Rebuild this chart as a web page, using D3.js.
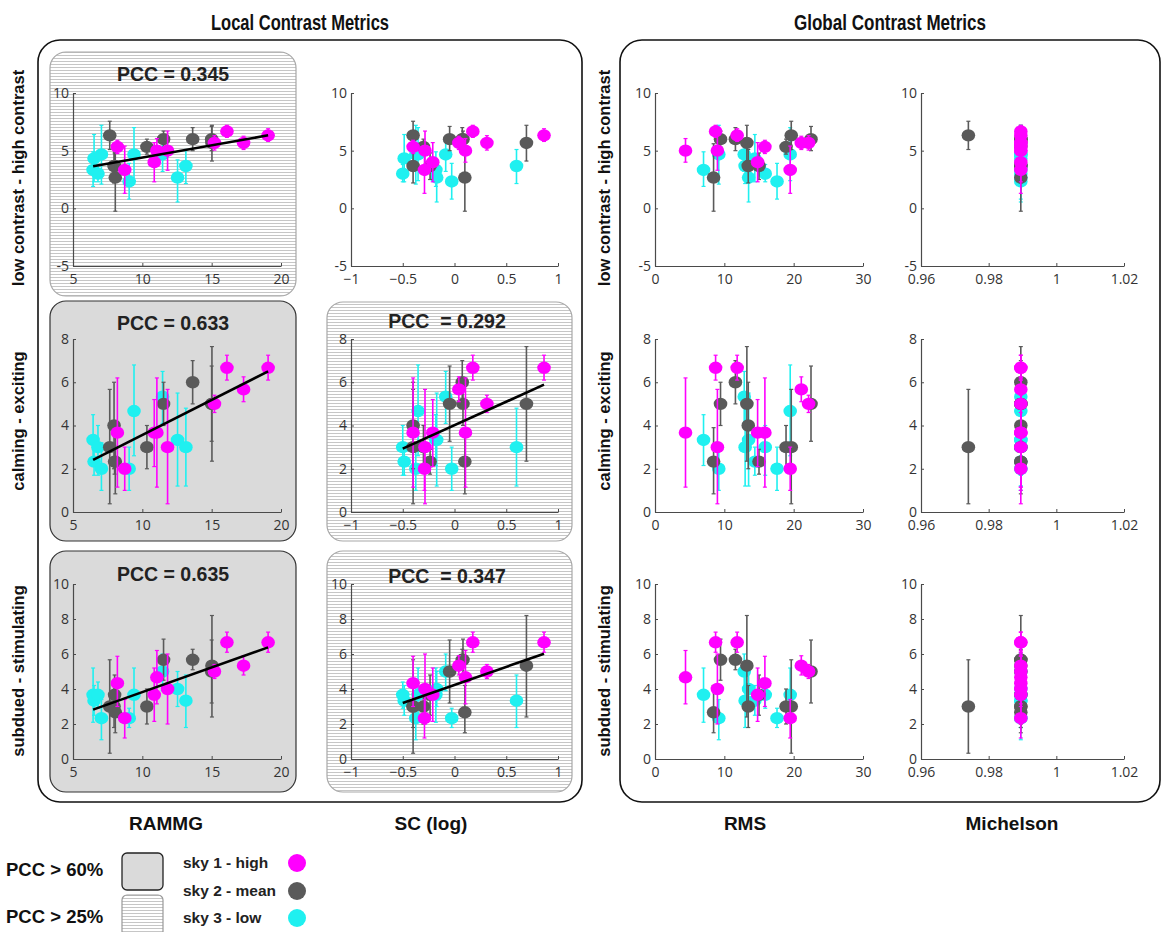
<!DOCTYPE html>
<html><head><meta charset="utf-8">
<script src="https://cdn.jsdelivr.net/npm/d3@7"></script>
<style>
body{margin:0;background:#fff;}
svg{display:block;}
</style>
</head><body><svg id="c" width="1164" height="932"></svg>
<script>
// ---------------- DATA ----------------
const skyNames = ["sky 1 - high", "sky 2 - mean", "sky 3 - low"];
const skyColors = ["#ff00ff", "#5a5a5a", "#1ff0f0"];
const columnNames = ["RAMMG", "SC (log)", "RMS", "Michelson"];
const rowNames = ["low contrast - high contrast", "calming - exciting", "subdued - stimulating"];

// x values, one per image (9 images per sky)
const rammgSky1 = [8.2, 8.73, 10.86, 11.05, 11.82, 15.2, 16.1, 17.3, 19.07];
const rammgSky2 = [7.65, 7.96, 8.0, 8.05, 10.33, 11.53, 13.63, 15.02, 15.0];
const rammgSky3 = [6.45, 6.52, 6.8, 7.05, 9.05, 9.4, 11.46, 12.54, 13.14];

const scSky1 = [-0.40, -0.29, -0.21, 0.106, -0.285, 0.313, 0.177, 0.042, 0.865];
const scSky2 = [-0.40, -0.40, -0.236, 0.10, -0.30, 0.082, 0.075, 0.695, -0.047];
const scSky3 = [-0.18, -0.486, -0.50, -0.374, -0.027, -0.352, -0.085, -0.172, 0.599];

const rmsSky1 = [15.85, 19.5, 14.8, 4.4, 9.0, 22.15, 8.74, 21.1, 11.85];
const rmsSky2 = [19.65, 13.45, 15.0, 8.45, 18.9, 9.45, 11.6, 13.25, 22.5];
const rmsSky3 = [7.0, 14.4, 15.9, 9.2, 17.6, 19.5, 12.87, 13.5, 13.0];

const michelsonSky1 = [0.9895, 0.9895, 0.9895, 0.9895, 0.9895, 0.9895, 0.9895, 0.9895, 0.9895];
const michelsonSky2 = [0.974, 0.9895, 0.9895, 0.9895, 0.9895, 0.9895, 0.9895, 0.9895, 0.9895];
const michelsonSky3 = [0.9895, 0.9895, 0.9895, 0.9895, 0.9895, 0.9895, 0.9895, 0.9895, 0.9895];

// ratings [mean, lower, upper], same image order as above
const contrastSky1 = [[5.33,4.75,5.9],[3.33,1.3,5.4],[4.0,2.3,5.7],[5.0,4.0,6.05],[5.0,3.3,6.7],[5.67,5.05,6.3],[6.67,6.15,7.2],[5.67,5.1,6.25],[6.33,5.8,6.9]];
const contrastSky2 = [[6.33,5.1,7.55],[3.67,2.2,5.1],[3.67,2.5,4.8],[2.67,-0.25,5.6],[5.33,4.7,6.0],[6.0,5.3,6.7],[6.0,5.0,7.0],[5.67,4.1,7.2],[6.0,5.0,7.1]];
const contrastSky3 = [[3.33,1.9,4.9],[4.33,2.3,6.4],[3.0,2.3,3.8],[4.67,2.1,7.2],[2.33,0.8,3.9],[4.67,2.4,7.0],[4.67,3.2,5.8],[2.67,0.55,4.2],[3.67,2.15,5.1]];

const calmingSky1 = [[3.67,1.15,6.2],[2.0,1.0,3.0],[3.67,2.1,5.2],[3.67,1.15,6.2],[3.0,0.38,5.67],[5.0,4.6,5.4],[6.67,6.1,7.25],[5.67,5.1,6.25],[6.67,6.1,7.25]];
const calmingSky2 = [[3.0,0.38,5.67],[4.0,2.0,6.0],[2.33,1.75,2.9],[2.33,0.84,3.9],[3.0,2.0,4.0],[5.0,4.0,6.0],[6.0,5.0,7.0],[5.0,2.35,7.65],[5.0,3.27,6.75]];
const calmingSky3 = [[3.33,2.15,4.5],[2.33,1.7,3.0],[3.0,1.7,4.0],[2.0,1.0,3.2],[2.0,1.0,3.0],[4.67,2.6,6.8],[5.33,4.1,6.5],[3.33,1.2,5.5],[3.0,1.2,4.8]];

const subduedSky1 = [[4.33,3.0,5.87],[2.33,1.2,3.4],[3.67,2.15,5.2],[4.67,3.15,6.2],[4.0,2.0,6.0],[5.0,4.6,5.4],[6.67,6.1,7.25],[5.33,4.8,5.9],[6.67,6.1,7.25]];
const subduedSky2 = [[3.0,0.33,5.67],[3.0,1.8,4.2],[3.67,2.5,4.8],[2.67,1.5,4.2],[3.0,2.0,4.0],[5.67,4.5,6.85],[5.67,5.1,6.27],[5.33,2.4,8.2],[5.0,3.2,6.8]];
const subduedSky3 = [[3.67,2.1,5.2],[3.33,2.5,4.2],[3.67,2.9,4.4],[2.33,1.1,3.4],[2.33,1.8,2.9],[3.67,2.3,5.2],[5.0,3.9,6.0],[4.0,3.0,5.0],[3.33,1.8,4.8]];

// fitted regression lines (end points)
const fitRammgContrast = [[6.45, 3.65], [19.07, 6.33]];
const fitRammgCalming = [[6.45, 2.41], [19.07, 6.5]];
const fitRammgSubdued = [[6.45, 2.82], [19.07, 6.38]];
const fitScCalming = [[-0.50, 2.93], [0.865, 5.89]];
const fitScSubdued = [[-0.50, 3.2], [0.865, 6.02]];

const pccRammg = ["PCC = 0.345", "PCC = 0.633", "PCC = 0.635"];
const pccSc = [null, "PCC  = 0.292", "PCC  = 0.347"];

const ticksRammg = [5, 10, 15, 20];
const ticksSc = [-1, -0.5, 0, 0.5, 1];
const ticksRms = [0, 10, 20, 30];
const ticksMichelson = [0.96, 0.98, 1, 1.02];
const ticksContrast = [-5, 0, 5, 10];
const ticksCalming = [0, 2, 4, 6, 8];
const ticksSubdued = [0, 2, 4, 6, 8, 10];

// ---------------- LAYOUT ----------------
const svg = d3.select("#c");
const defs = svg.append("defs");
const pat = defs.append("pattern").attr("id", "hatch").attr("patternUnits", "userSpaceOnUse")
  .attr("width", 10).attr("height", 3);
pat.append("rect").attr("width", 10).attr("height", 3).attr("fill", "#ffffff");
pat.append("line").attr("x1", 0).attr("x2", 10).attr("y1", 1.5).attr("y2", 1.5)
  .attr("stroke", "#c6c6c6").attr("stroke-width", 1);

const FONT = "'Liberation Sans', Arial, sans-serif";
const TICKFONT = "'Open Sans', 'Noto Sans', sans-serif";

// titles
[["Local Contrast Metrics", 300, 178], ["Global Contrast Metrics", 890, 192]].forEach(([t, cx, len]) => {
  svg.append("text").attr("x", cx - len / 2).attr("y", 30)
    .attr("textLength", len).attr("lengthAdjust", "spacingAndGlyphs")
    .attr("font-family", FONT).attr("font-weight", "bold")
    .attr("font-size", 22).attr("fill", "#111").text(t);
});

// big frames
svg.append("rect").attr("x", 38).attr("y", 40).attr("width", 544).attr("height", 762).attr("rx", 22)
  .attr("fill", "none").attr("stroke", "#111").attr("stroke-width", 1.6);
svg.append("rect").attr("x", 620).attr("y", 40).attr("width", 540).attr("height", 762).attr("rx", 22)
  .attr("fill", "none").attr("stroke", "#111").attr("stroke-width", 1.6);

// PCC highlight boxes
const boxes = [
  {x: 50, y: 52, w: 246, h: 244, type: "hatch"},
  {x: 50, y: 301, w: 246, h: 240, type: "grey"},
  {x: 327, y: 302, w: 245, h: 239, type: "hatch"},
  {x: 50, y: 551, w: 246, h: 241, type: "grey"},
  {x: 327, y: 551, w: 245, h: 241, type: "hatch"}
];
boxes.forEach(b => {
  svg.append("rect").attr("x", b.x).attr("y", b.y).attr("width", b.w).attr("height", b.h).attr("rx", 16)
    .attr("fill", b.type === "grey" ? "#dadada" : "url(#hatch)")
    .attr("stroke", b.type === "grey" ? "#333" : "#a8a8a8").attr("stroke-width", 1.2);
});

const columns = [
  {domain: [5, 20], range: [73, 281], ticks: ticksRammg, fmt: d => String(d),
   xs: [rammgSky1, rammgSky2, rammgSky3], fits: [fitRammgContrast, fitRammgCalming, fitRammgSubdued], pcc: pccRammg, pccX: 173},
  {domain: [-1, 1], range: [351, 558], ticks: ticksSc, fmt: d => (d < 0 ? "\u2212" + String(-d) : String(d)),
   xs: [scSky1, scSky2, scSky3], fits: [null, fitScCalming, fitScSubdued], pcc: pccSc, pccX: 447},
  {domain: [0, 30], range: [655, 863], ticks: ticksRms, fmt: d => String(d),
   xs: [rmsSky1, rmsSky2, rmsSky3], fits: [null, null, null], pcc: [null, null, null]},
  {domain: [0.96, 1.02], range: [921, 1124], ticks: ticksMichelson, fmt: d => String(d),
   xs: [michelsonSky1, michelsonSky2, michelsonSky3], fits: [null, null, null], pcc: [null, null, null]}
];
const rows = [
  {domain: [-5, 10], range: [266, 93], ticks: ticksContrast, ys: [contrastSky1, contrastSky2, contrastSky3], pccY: 81, labelY: 178},
  {domain: [0, 8], range: [512, 339], ticks: ticksCalming, ys: [calmingSky1, calmingSky2, calmingSky3], pccY: 330, labelY: 421},
  {domain: [0, 10], range: [759, 584], ticks: ticksSubdued, ys: [subduedSky1, subduedSky2, subduedSky3], pccY: 581, labelY: 671}
];
const pccYOffsetSc = [0, -2, 2];

rows.forEach((row, ri) => {
  columns.forEach((col, ci) => {
    const x = d3.scaleLinear().domain(col.domain).range(col.range);
    const y = d3.scaleLinear().domain(row.domain).range(row.range);
    const g = svg.append("g");
    // axes
    const ax = g.append("g").attr("transform", `translate(0,${row.range[0]})`)
      .call(d3.axisBottom(x).tickValues(col.ticks).tickFormat(col.fmt).tickSizeInner(-3).tickSizeOuter(0).tickPadding(8));
    const ay = g.append("g").attr("transform", `translate(${col.range[0]},0)`)
      .call(d3.axisLeft(y).tickValues(row.ticks).tickFormat(d => String(d)).tickSizeInner(-3).tickSizeOuter(0).tickPadding(4));
    [ax, ay].forEach(a => {
      a.select(".domain").attr("stroke", "#4a4a4a").attr("stroke-width", 1.2);
      a.selectAll(".tick line").attr("stroke", "#4a4a4a");
      a.selectAll(".tick text").attr("fill", "#333").attr("font-family", TICKFONT).attr("font-size", 14);
    });
    // series: draw cyan, grey, magenta (magenta on top)
    [2, 1, 0].forEach(si => {
      const xs = col.xs[si], ys = row.ys[si], c = skyColors[si];
      const sg = g.append("g");
      xs.forEach((xv, i) => {
        const [m, lo, hi] = ys[i];
        const px = x(xv);
        sg.append("line").attr("x1", px).attr("x2", px).attr("y1", y(lo)).attr("y2", y(hi))
          .attr("stroke", c).attr("stroke-width", 1.6);
        [lo, hi].forEach(v => sg.append("line").attr("x1", px - 2).attr("x2", px + 2).attr("y1", y(v)).attr("y2", y(v))
          .attr("stroke", c).attr("stroke-width", 1.2));
        sg.append("ellipse").attr("cx", px).attr("cy", y(m)).attr("rx", 6.8).attr("ry", 6.2).attr("fill", c);
      });
    });
    const fit = col.fits[ri];
    if (fit) {
      g.append("line").attr("x1", x(fit[0][0])).attr("y1", y(fit[0][1]))
        .attr("x2", x(fit[1][0])).attr("y2", y(fit[1][1]))
        .attr("stroke", "#000").attr("stroke-width", 2.6);
    }
    if (col.pcc[ri]) {
      svg.append("text").attr("x", col.pccX).attr("y", row.pccY + (ci === 1 ? pccYOffsetSc[ri] : 0))
        .attr("text-anchor", "middle").attr("font-family", FONT).attr("font-weight", "bold")
        .attr("font-size", 19.5).attr("fill", "#222").style("white-space", "pre").text(col.pcc[ri]);
    }
  });
  // row labels
  [20, 606].forEach(lx => {
    svg.append("text").attr("transform", `translate(${lx},${row.labelY}) rotate(-90)`)
      .attr("text-anchor", "middle").attr("dominant-baseline", "middle")
      .attr("font-family", FONT).attr("font-weight", "bold").attr("font-size", 16.5).attr("fill", "#111")
      .text(rowNames[ri]);
  });
});

// column labels
const colLabelX = [166, 431, 745, 1012];
columnNames.forEach((n, i) => {
  svg.append("text").attr("x", colLabelX[i]).attr("y", 830).attr("text-anchor", "middle")
    .attr("font-family", FONT).attr("font-weight", "bold").attr("font-size", 19).attr("fill", "#111").text(n);
});

// legend
svg.append("text").attr("x", 6).attr("y", 876).attr("font-family", FONT).attr("font-weight", "bold")
  .attr("font-size", 18.5).attr("fill", "#111").text("PCC > 60%");
svg.append("text").attr("x", 6).attr("y", 923).attr("font-family", FONT).attr("font-weight", "bold")
  .attr("font-size", 18.5).attr("fill", "#111").text("PCC > 25%");
svg.append("rect").attr("x", 122).attr("y", 853).attr("width", 41).attr("height", 37).attr("rx", 5)
  .attr("fill", "#dadada").attr("stroke", "#222").attr("stroke-width", 1.3);
svg.append("rect").attr("x", 122).attr("y", 895).attr("width", 41).attr("height", 42).attr("rx", 5)
  .attr("fill", "url(#hatch)").attr("stroke", "#999").attr("stroke-width", 1.2);
skyNames.forEach((n, i) => {
  const yy = [863, 891, 918][i];
  svg.append("text").attr("x", 183).attr("y", yy + 5).attr("font-family", FONT).attr("font-weight", "bold")
    .attr("font-size", 15.5).attr("fill", "#222").text(n);
  svg.append("circle").attr("cx", 297).attr("cy", yy).attr("r", 9).attr("fill", skyColors[i]);
});
</script></body></html>
